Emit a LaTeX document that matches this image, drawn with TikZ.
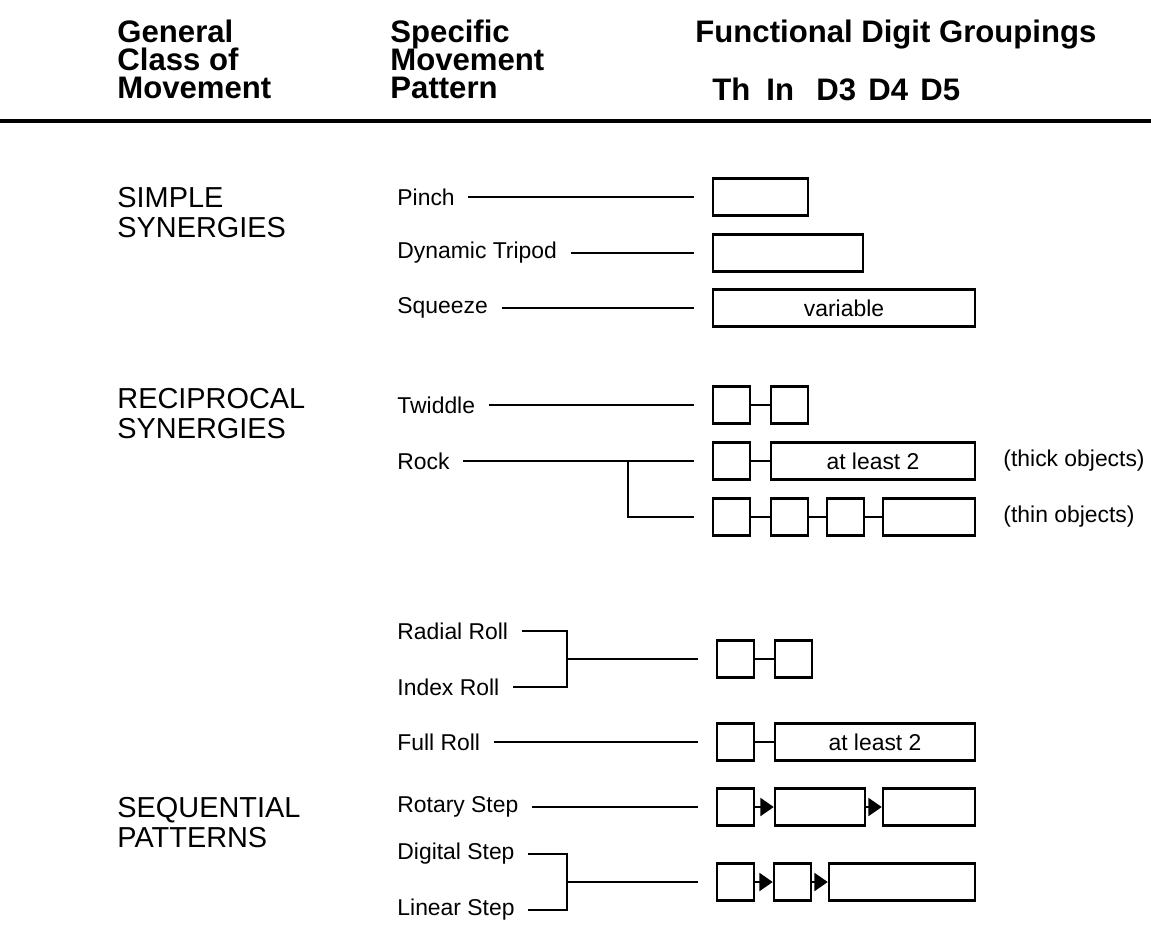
\documentclass[tikz,border=0pt]{standalone}
\usepackage{fontspec}
\setmainfont{Liberation Sans}
\usetikzlibrary{arrows.meta, positioning, calc}

\tikzset{
    head/.style={font=\fontsize{14}{12.6}\selectfont\bfseries, align=left,
        anchor=north west, inner sep=0pt},
    digithead/.style={font=\fontsize{14}{12.6}\selectfont\bfseries,
        anchor=base west, inner sep=0pt},
    classlbl/.style={font=\fontsize{13}{13.5}\selectfont, align=left,
        anchor=north west, inner sep=0pt},
    patlbl/.style={font=\fontsize{10.3}{12}\selectfont, anchor=west, inner sep=0pt},
    digit/.style={draw, line width=1.1pt, minimum height=16.6pt, inner sep=0pt,
        font=\fontsize{10.3}{12}\selectfont},
    conn/.style={line width=1.1pt, shorten <=6pt, shorten >=8pt},
    fork/.style={line width=1.1pt, shorten <=6pt},
    tobox/.style={line width=1.1pt, shorten >=8pt},
    link/.style={line width=1.1pt},
    steparrow/.style={line width=1.1pt, -{Triangle[length=6pt,width=8pt]}},
}

% one digit box: name, left x, right x, y, text
\newcommand{\dbox}[5]{%
    \node[digit, minimum width={(#3-#2)*0.45pt}] (#1) at ({(#2+#3)/2},#4) {#5};}

\begin{document}
\begin{tikzpicture}[x=0.45pt, y=-0.45pt]
    \useasboundingbox (0,0) rectangle (1151,927);

    % Column headings
    \node[head] (hclass) at (117,20) {General\\Class of\\Movement};
    \node[head] (hpat) at (390,20) {Specific\\Movement\\Pattern};
    \node[head] (hdig) at (695,20) {Functional Digit Groupings};
    \foreach \d/\xpos in {Th/712, In/766, D3/816, D4/868, D5/920} {
        \node[digithead] (h\d) at (\xpos,100) {\d};
    }
    \draw[line width=1.4pt] (0,121) -- (1151,121);

    % General classes
    \node[classlbl] (simple) at (117,187) {SIMPLE\\SYNERGIES};
    \node[classlbl] (recip) at (117,388) {RECIPROCAL\\SYNERGIES};
    \node[classlbl] (seq) at (117,797) {SEQUENTIAL\\PATTERNS};

    % Simple synergies
    \node[patlbl] (pinch) at (397,197) {Pinch};
    \node[patlbl] (tripod) at (397,253) {Dynamic Tripod};
    \node[patlbl] (squeeze) at (397,308) {Squeeze};
    \dbox{pinchA}{713}{808}{197}{}
    \dbox{tripodA}{713}{863}{253}{}
    \dbox{squeezeA}{713}{975}{308}{variable}
    \draw[conn] (pinch) -- (pinchA);
    \draw[conn] (tripod) -- (tripodA);
    \draw[conn] (squeeze) -- (squeezeA);

    % Reciprocal synergies
    \node[patlbl] (twiddle) at (397,405) {Twiddle};
    \node[patlbl] (rock) at (397,461) {Rock};
    \dbox{twidA}{713}{750}{405}{}
    \dbox{twidB}{771}{808}{405}{}
    \draw[link] (twidA) -- (twidB);
    \draw[conn] (twiddle) -- (twidA);

    \dbox{thickA}{713}{750}{461}{}
    \dbox{thickB}{771}{975}{461}{at least 2}
    \draw[link] (thickA) -- (thickB);
    \node[patlbl] (thick) at (1003,461) {(thick objects)};

    \dbox{thinA}{713}{750}{517}{}
    \dbox{thinB}{771}{808}{517}{}
    \dbox{thinC}{827}{864}{517}{}
    \dbox{thinD}{883}{975}{517}{}
    \draw[link] (thinA) -- (thinB);
    \draw[link] (thinB) -- (thinC);
    \draw[link] (thinC) -- (thinD);
    \node[patlbl] (thin) at (1003,517) {(thin objects)};

    \coordinate (rockfork) at (628,461);
    \draw[conn] (rock) -- (thickA);
    \draw[tobox] (rockfork) |- (thinA);

    % Rolls
    \node[patlbl] (radial) at (397,631) {Radial Roll};
    \node[patlbl] (index) at (397,687) {Index Roll};
    \node[patlbl] (full) at (397,742) {Full Roll};
    \dbox{rollA}{717}{754}{659}{}
    \dbox{rollB}{775}{812}{659}{}
    \draw[link] (rollA) -- (rollB);
    \coordinate (rollfork) at (567,659);
    \draw[fork] (radial) -| (rollfork);
    \draw[fork] (index) -| (rollfork);
    \draw[tobox] (rollfork) -- (rollA);

    \dbox{fullA}{717}{754}{742}{}
    \dbox{fullB}{775}{975}{742}{at least 2}
    \draw[link] (fullA) -- (fullB);
    \draw[conn] (full) -- (fullA);

    % Sequential patterns
    \node[patlbl] (rotary) at (397,807) {Rotary Step};
    \node[patlbl] (digital) at (397,854) {Digital Step};
    \node[patlbl] (linear) at (397,910) {Linear Step};
    \dbox{rotA}{717}{754}{807}{}
    \dbox{rotB}{775}{865}{807}{}
    \dbox{rotC}{883}{975}{807}{}
    \draw[steparrow] (rotA) -- (rotB);
    \draw[steparrow] (rotB) -- (rotC);
    \draw[conn] (rotary) -- (rotA);

    \dbox{digA}{717}{754}{882}{}
    \dbox{digB}{774}{811}{882}{}
    \dbox{digC}{829}{975}{882}{}
    \draw[steparrow] (digA) -- (digB);
    \draw[steparrow] (digB) -- (digC);
    \coordinate (stepfork) at (567,882);
    \draw[fork] (digital) -| (stepfork);
    \draw[fork] (linear) -| (stepfork);
    \draw[tobox] (stepfork) -- (digA);
\end{tikzpicture}
\end{document}
